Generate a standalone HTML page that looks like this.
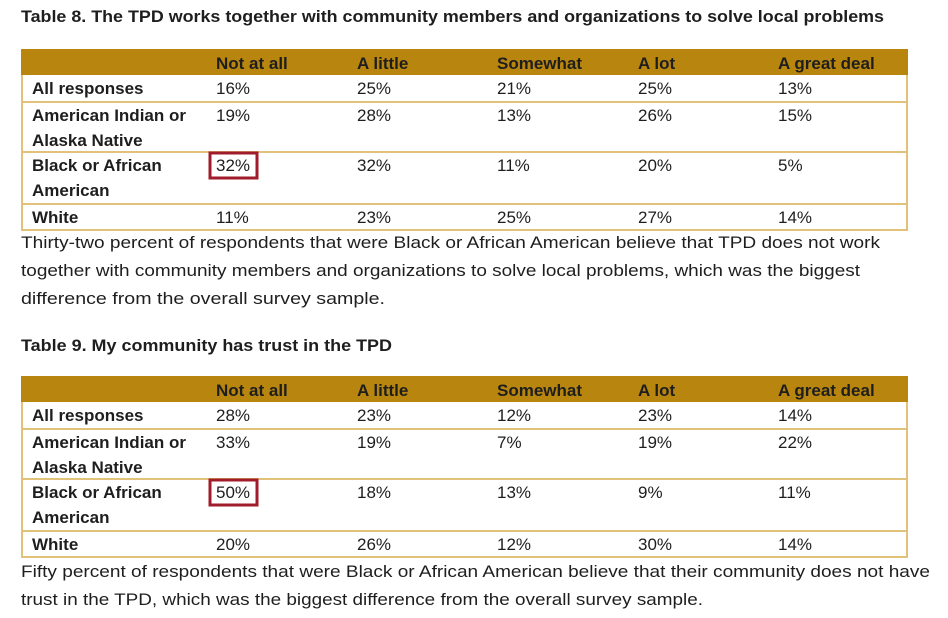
<!DOCTYPE html>
<html><head><meta charset="utf-8"><style>
html,body{margin:0;padding:0;background:#fff;width:948px;height:618px;overflow:hidden}
svg text{font-family:"Liberation Sans",Arial,sans-serif;fill:#1e1e1e}
.b{font-weight:bold}
</style></head><body>
<svg id="s" width="948" height="618" xmlns="http://www.w3.org/2000/svg"></svg>
<script>
const columns = ["Not at all","A little","Somewhat","A lot","A great deal"];
const rowLabels = [["All responses"],["American Indian or","Alaska Native"],["Black or African","American"],["White"]];
const t8Values = [[16,25,21,25,13],[19,28,13,26,15],[32,32,11,20,5],[11,23,25,27,14]];
const t9Values = [[28,23,12,23,14],[33,19,7,19,22],[50,18,13,9,11],[20,26,12,30,14]];
const titles = ["Table 8. The TPD works together with community members and organizations to solve local problems","Table 9. My community has trust in the TPD"];
const notes = [["Thirty-two percent of respondents that were Black or African American believe that TPD does not work","together with community members and organizations to solve local problems, which was the biggest","difference from the overall survey sample."],["Fifty percent of respondents that were Black or African American believe that their community does not have","trust in the TPD, which was the biggest difference from the overall survey sample."]];
const highlight = [2,0];

const NS="http://www.w3.org/2000/svg", svg=document.getElementById('s');
const colX=[216,357,497,638,778];
function mk(tag,attrs,parent){const e=document.createElementNS(NS,tag);for(const k in attrs)e.setAttribute(k,attrs[k]);(parent||svg).appendChild(e);return e;}
function txt(str,x,y,cls,size,len,parent){const t=mk('text',{x:x,y:y,'font-size':size},parent);if(cls)t.setAttribute('class',cls);if(len){t.setAttribute('textLength',len);t.setAttribute('lengthAdjust','spacingAndGlyphs');}t.textContent=str;return t;}

function table(ti,values,top,titleY,titleLen,noteY,noteLens){
  const g=mk('g',{});
  
  
  const tt=txt(titles[ti],21,titleY,'b',17,titleLen,g);
  
  
  const hdr=mk('rect',{x:21,y:top,width:887,height:26,fill:'#b8860f'},g);
  
  
  columns.forEach((c,i)=>{const h=txt(c,colX[i],top+20,'b',17,null,g);
    
    });
  const heights=[27,50,52,26];
  let y=top+26;
  const rowsTop=y;
  rowLabels.forEach((lab,r)=>{
    lab.forEach((l,k)=>{const e=txt(l,32,y+19+k*25,'b',17,null,g);
      
      });
    values[r].forEach((v,c)=>{const e=txt(v+'%',colX[c],y+19,null,17,null,g);
      
      
      if(r===highlight[0]&&c===highlight[1]){
        const b=mk('rect',{x:colX[c]-6,y:y+1,width:47,height:25,fill:'none',stroke:'#a01c2a','stroke-width':3},g);
        
        
      }});
    y+=heights[r];
    mk('line',{x1:21,x2:908,y1:y,y2:y,stroke:'#e2c27a','stroke-width':2},g);
  });
  mk('line',{x1:22,x2:22,y1:rowsTop,y2:y,stroke:'#e2c27a','stroke-width':2},g);
  mk('line',{x1:907,x2:907,y1:rowsTop,y2:y,stroke:'#e2c27a','stroke-width':2},g);
  notes[ti].forEach((n,i)=>{const e=txt(n,21,noteY+i*28,null,17,noteLens[i],g);
    
    });
}
table(0,t8Values,49,22,863,248,[859,839,364]);
table(1,t9Values,376,351,371,577,[909,682]);
</script>
</body></html>
